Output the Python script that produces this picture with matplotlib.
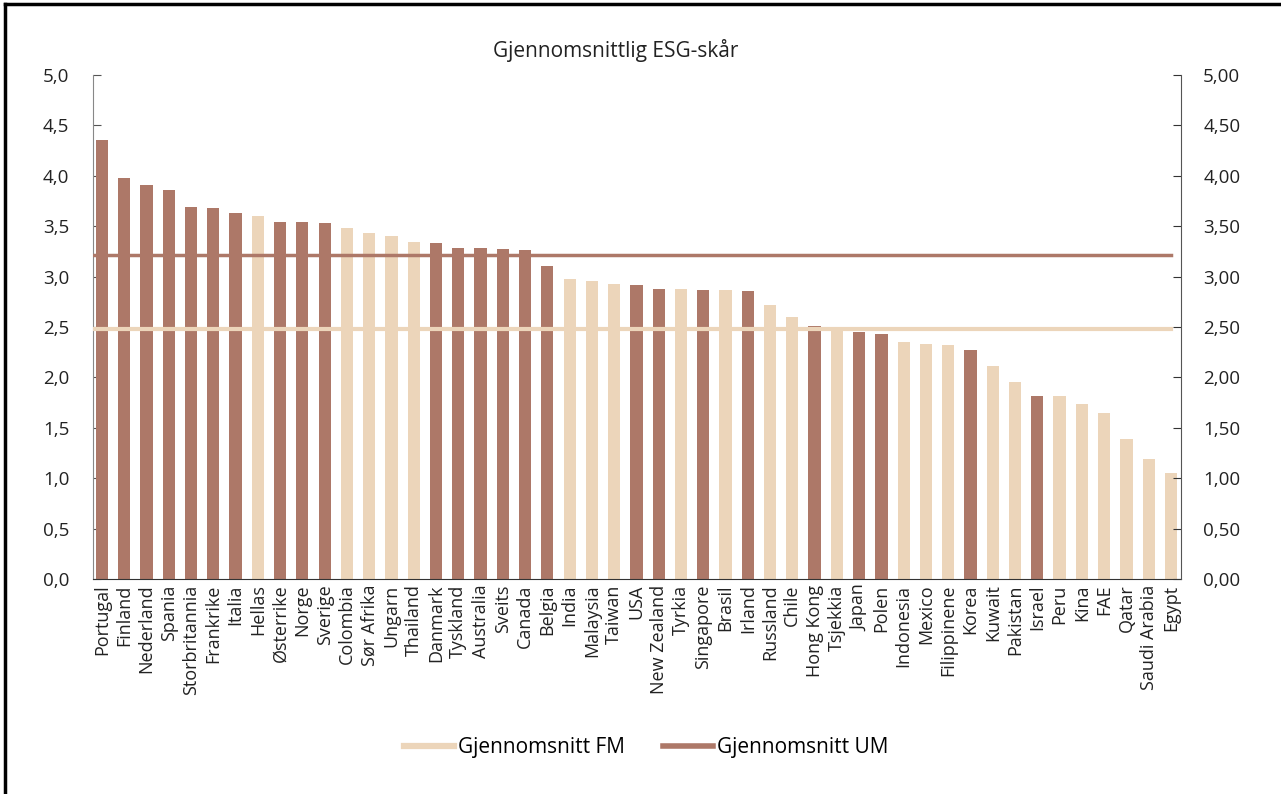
import numpy as np
import matplotlib.pyplot as plt
import matplotlib.ticker as ticker
from matplotlib.lines import Line2D

plt.rcParams['font.family'] = ['Open Sans', 'DejaVu Sans']

countries = ['Portugal', 'Finland', 'Nederland', 'Spania', 'Storbritannia', 'Frankrike',
             'Italia', 'Hellas', 'Østerrike', 'Norge', 'Sverige', 'Colombia', 'Sør Afrika',
             'Ungarn', 'Thailand', 'Danmark', 'Tyskland', 'Australia', 'Sveits', 'Canada',
             'Belgia', 'India', 'Malaysia', 'Taiwan', 'USA', 'New Zealand', 'Tyrkia',
             'Singapore', 'Brasil', 'Irland', 'Russland', 'Chile', 'Hong Kong', 'Tsjekkia',
             'Japan', 'Polen', 'Indonesia', 'Mexico', 'Filippinene', 'Korea', 'Kuwait',
             'Pakistan', 'Israel', 'Peru', 'Kina', 'FAE', 'Qatar', 'Saudi Arabia', 'Egypt']
scores = [4.36, 3.98, 3.91, 3.86, 3.69, 3.68, 3.63, 3.60, 3.54, 3.54, 3.53, 3.48, 3.43,
          3.40, 3.34, 3.33, 3.28, 3.28, 3.27, 3.26, 3.11, 2.98, 2.96, 2.93, 2.92, 2.88,
          2.88, 2.87, 2.87, 2.86, 2.72, 2.60, 2.51, 2.50, 2.45, 2.43, 2.35, 2.33, 2.32,
          2.27, 2.11, 1.95, 1.82, 1.82, 1.74, 1.65, 1.39, 1.19, 1.05]
# UM = utviklede markeder, FM = fremvoksende markeder
group = ['UM', 'UM', 'UM', 'UM', 'UM', 'UM', 'UM', 'FM', 'UM', 'UM', 'UM', 'FM', 'FM',
         'FM', 'FM', 'UM', 'UM', 'UM', 'UM', 'UM', 'UM', 'FM', 'FM', 'FM', 'UM', 'UM',
         'FM', 'UM', 'FM', 'UM', 'FM', 'FM', 'UM', 'FM', 'UM', 'UM', 'FM', 'FM', 'FM',
         'UM', 'FM', 'FM', 'UM', 'FM', 'FM', 'FM', 'FM', 'FM', 'FM']
avg_fm = 2.48
avg_um = 3.21

dark = '#ad7868'
light = '#ecd5ba'

fig = plt.figure(figsize=(12.81, 7.94), dpi=100)
ax = fig.add_axes([93/1281, 1-579/794, 1088/1281, 504/794])

x = np.arange(len(countries))
cols = [dark if g == 'UM' else light for g in group]
ax.bar(x, scores, width=0.55, color=cols, zorder=2)
ax.plot([-0.35, x[-1]], [avg_fm, avg_fm], color=light, lw=3, zorder=3, label='Gjennomsnitt FM')
ax.plot([-0.35, x[-1]], [avg_um, avg_um], color=dark, lw=2.5, zorder=3, label='Gjennomsnitt UM')

ax.set_xlim(-0.4, 48.45)
ax.set_ylim(0, 5)
ax.set_xticks(x)
ax.set_xticklabels(countries, rotation=90, fontsize=13, color='#222222')
ax.tick_params(axis='x', length=0, pad=4)
ax.yaxis.set_major_locator(ticker.MultipleLocator(0.5))
ax.yaxis.set_major_formatter(ticker.FuncFormatter(lambda v, p: ('%.1f' % v).replace('.', ',')))
ax.tick_params(axis='y', direction='in', length=6, labelsize=13.5, labelcolor='#222222', color='#555555', pad=17)
ax.spines['top'].set_visible(False)
ax.spines['right'].set_visible(False)
ax.spines['left'].set_color('#888888')
ax.spines['bottom'].set_color('#333333')

ax2 = ax.twinx()
ax2.set_ylim(0, 5)
ax2.yaxis.set_major_locator(ticker.MultipleLocator(0.5))
ax2.yaxis.set_major_formatter(ticker.FuncFormatter(lambda v, p: ('%.2f' % v).replace('.', ',')))
ax2.tick_params(axis='y', direction='in', length=6, labelsize=13.5, labelcolor='#222222', color='#333333', pad=16)
for s in ['top', 'left', 'bottom']:
    ax2.spines[s].set_visible(False)
ax2.spines['right'].set_color('#555555')

fig.text(616/1281, 1-50/794, 'Gjennomsnittlig ESG-skår', ha='center', va='center',
         fontsize=15, color='#222222')

l = ['Gjennomsnitt FM', 'Gjennomsnitt UM']
h = [Line2D([], [], color=light, lw=4.5), Line2D([], [], color=dark, lw=4)]
fig.legend(h, l, loc='center', bbox_to_anchor=(646/1281, 1-748/794), ncol=2, frameon=False,
           fontsize=15, handlelength=2.4, columnspacing=1.8, handletextpad=0.2)

# ramme oppe og til venstre
fig.add_artist(Line2D([5/1281, 5/1281], [0, 1-4/794], transform=fig.transFigure, color='black', lw=2.5))
fig.add_artist(Line2D([5/1281, 1], [1-4/794, 1-4/794], transform=fig.transFigure, color='black', lw=2.5))

fig.savefig('out.png', dpi=100)
